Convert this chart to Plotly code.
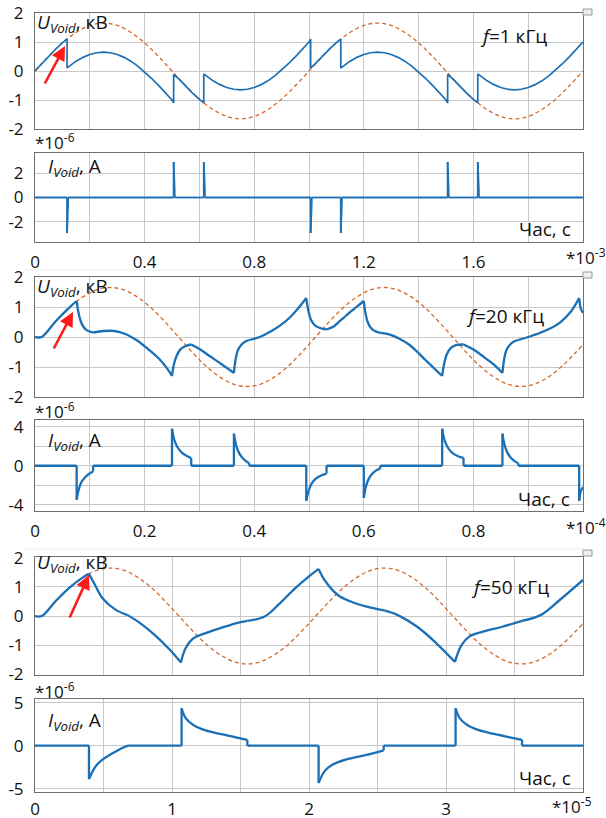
import plotly.graph_objects as go

W, H = 606, 818
BLUE = "#1a6fb5"
ORANGE = "#d2692f"
GRID = "#c8c8c8"
FRAME = "#6e6e6e"
FONT = "Open Sans"

# ---------------- data ----------------
# common applied-voltage shape (kV) sampled every 1/20 period
supply_kv = [0, 0.51, 0.97, 1.33, 1.57, 1.65, 1.57, 1.33, 0.97, 0.51, 0,
             -0.51, -0.97, -1.33, -1.57, -1.65, -1.57, -1.33, -0.97, -0.51, 0,
             0.51, 0.97, 1.33, 1.57, 1.65, 1.57, 1.33, 0.97, 0.51, 0,
             -0.51, -0.97, -1.33, -1.57, -1.65, -1.57, -1.33, -0.97, -0.51, 0]

# ---- f = 1 kHz, time in units of 1e-3 s ----
t1_supply = [0, 0.05, 0.1, 0.15, 0.2, 0.25, 0.3, 0.35, 0.4, 0.45, 0.5, 0.55, 0.6, 0.65,
             0.7, 0.75, 0.8, 0.85, 0.9, 0.95, 1.0, 1.05, 1.1, 1.15, 1.2, 1.25, 1.3, 1.35,
             1.4, 1.45, 1.5, 1.55, 1.6, 1.65, 1.7, 1.75, 1.8, 1.85, 1.9, 1.95, 2.0]
u1_supply = supply_kv

t1_void = [0, 0.025, 0.05, 0.075, 0.1, 0.117, 0.117,
           0.125, 0.15, 0.175, 0.2, 0.225, 0.25, 0.275, 0.3, 0.325, 0.35, 0.375, 0.4, 0.425, 0.45, 0.475, 0.5, 0.506, 0.506,
           0.525, 0.55, 0.575, 0.6, 0.616, 0.616,
           0.625, 0.65, 0.675, 0.7, 0.725, 0.75, 0.775, 0.8, 0.825, 0.85, 0.875, 0.9, 0.925, 0.95, 0.975, 1.0, 1.006, 1.006,
           1.025, 1.05, 1.075, 1.1, 1.116, 1.116,
           1.125, 1.15, 1.175, 1.2, 1.225, 1.25, 1.275, 1.3, 1.325, 1.35, 1.375, 1.4, 1.425, 1.45, 1.475, 1.5, 1.506, 1.506,
           1.525, 1.55, 1.575, 1.6, 1.616, 1.616,
           1.625, 1.65, 1.675, 1.7, 1.725, 1.75, 1.775, 1.8, 1.825, 1.85, 1.875, 1.9, 1.925, 1.95, 1.975, 2.0]
u1_void = [0, 0.26, 0.51, 0.75, 0.97, 1.11, 0.11,
           0.17, 0.34, 0.47, 0.57, 0.63, 0.65, 0.63, 0.57, 0.47, 0.34, 0.17, -0.03, -0.25, -0.49, -0.74, -1.0, -1.1, -0.12,
           -0.27, -0.52, -0.76, -0.98, -1.1, -0.1,
           -0.17, -0.34, -0.47, -0.57, -0.63, -0.65, -0.63, -0.57, -0.47, -0.34, -0.17, 0.03, 0.25, 0.49, 0.74, 1.0, 1.1, 0.1,
           0.27, 0.52, 0.76, 0.98, 1.1, 0.1,
           0.17, 0.34, 0.47, 0.57, 0.63, 0.65, 0.63, 0.57, 0.47, 0.34, 0.17, -0.03, -0.25, -0.49, -0.74, -1.0, -1.1, -0.12,
           -0.27, -0.52, -0.76, -0.98, -1.1, -0.1,
           -0.17, -0.34, -0.47, -0.57, -0.63, -0.65, -0.63, -0.57, -0.47, -0.34, -0.17, 0.03, 0.25, 0.49, 0.74, 1.0]

# current pulses (1e-6 A): each pulse = onset..end times and values
i1_pulse_t = [[0.117, 0.121], [0.506, 0.51], [0.616, 0.62], [1.006, 1.01],
              [1.116, 1.12], [1.506, 1.51], [1.616, 1.62]]
i1_pulse_v = [[-2.95, -0.4], [2.95, 0.4], [2.95, 0.6], [-2.95, -0.4],
              [-2.95, -0.4], [2.95, 0.4], [2.95, 0.6]]

# ---- f = 20 kHz, time in units of 1e-4 s ----
t3_supply = [0, 0.012, 0.037, 0.062, 0.087, 0.112, 0.137, 0.162, 0.187, 0.212, 0.237, 0.262,
             0.287, 0.312, 0.337, 0.362, 0.387, 0.412, 0.437, 0.462, 0.487, 0.512, 0.537,
             0.562, 0.587, 0.612, 0.637, 0.662, 0.687, 0.712, 0.737, 0.762, 0.787, 0.812,
             0.837, 0.862, 0.887, 0.912, 0.937, 0.962, 0.987, 1.012]
u3_supply = [0] + supply_kv

u3_t = [0, 0.012, 0.037, 0.062, 0.076, None,
        0.076, 0.079, 0.083, 0.088, 0.095, 0.106, None,
        0.106, 0.125, 0.145, 0.165, 0.185, 0.205, 0.225, 0.24, 0.25, None,
        0.25, 0.253, 0.258, 0.265, 0.275, 0.285, None,
        0.285, 0.3, 0.32, 0.34, 0.363, None,
        0.363, 0.366, 0.37, 0.377, 0.384, 0.391, None,
        0.391, 0.41, 0.43, 0.45, 0.465, 0.48, 0.495, None,
        0.495, 0.498, 0.503, 0.51, 0.52, 0.532, None,
        0.532, 0.545, 0.556, 0.567, 0.577, 0.588, 0.6, None,
        0.6, 0.603, 0.607, 0.613, 0.62, 0.63, None,
        0.63, 0.648, 0.665, 0.683, 0.698, 0.712, 0.727, 0.743, None,
        0.743, 0.746, 0.751, 0.758, 0.768, 0.782, None,
        0.782, 0.8, 0.82, 0.838, 0.853, None,
        0.853, 0.856, 0.86, 0.867, 0.874, 0.882, None,
        0.882, 0.9, 0.922, 0.94, 0.958, 0.978, 0.993, None,
        0.993, 0.996, 1.0]
u3_v = [0, 0, 0.51, 0.97, 1.2, None,
        1.2, 0.85, 0.55, 0.35, 0.22, 0.15, None,
        0.15, 0.2, 0.2, 0.1, -0.1, -0.38, -0.7, -1.02, -1.3, None,
        -1.3, -0.95, -0.65, -0.42, -0.3, -0.25, None,
        -0.25, -0.4, -0.65, -0.9, -1.2, None,
        -1.2, -0.75, -0.45, -0.25, -0.15, -0.1, None,
        -0.1, 0.0, 0.18, 0.42, 0.65, 0.95, 1.3, None,
        1.3, 0.95, 0.6, 0.4, 0.3, 0.25, None,
        0.25, 0.35, 0.53, 0.7, 0.86, 1.02, 1.2, None,
        1.2, 0.8, 0.5, 0.3, 0.2, 0.14, None,
        0.14, 0.08, -0.06, -0.26, -0.5, -0.76, -1.02, -1.3, None,
        -1.3, -0.95, -0.6, -0.38, -0.27, -0.25, None,
        -0.25, -0.42, -0.68, -0.93, -1.2, None,
        -1.2, -0.75, -0.45, -0.25, -0.15, -0.1, None,
        -0.1, 0.0, 0.14, 0.28, 0.48, 0.85, 1.3, None,
        1.3, 0.95, 0.8]

i3_pulse_t = [[0.076, 0.08, 0.085, 0.092, 0.099, 0.106],
              [0.25, 0.254, 0.26, 0.268, 0.277, 0.285],
              [0.363, 0.367, 0.372, 0.378, 0.385, 0.391],
              [0.495, 0.499, 0.505, 0.513, 0.522, 0.532],
              [0.6, 0.604, 0.609, 0.615, 0.622, 0.63],
              [0.743, 0.747, 0.753, 0.761, 0.771, 0.782],
              [0.853, 0.857, 0.862, 0.868, 0.875, 0.882],
              [0.993, 0.996, 1.0]]
i3_pulse_v = [[-3.5, -2.4, -1.65, -1.15, -0.82, -0.6],
              [3.8, 2.7, 1.9, 1.35, 1.0, 0.8],
              [3.3, 2.1, 1.35, 0.85, 0.48, 0.25],
              [-3.6, -2.6, -1.8, -1.3, -1.0, -0.8],
              [-3.3, -2.1, -1.35, -0.85, -0.5, -0.3],
              [3.8, 2.7, 1.9, 1.35, 1.0, 0.8],
              [3.3, 2.1, 1.35, 0.85, 0.48, 0.25],
              [-3.6, -2.6, -2.2]]

# ---- f = 50 kHz, time in units of 1e-5 s ----
t5_supply = [0, 0.05, 0.15, 0.25, 0.35, 0.45, 0.55, 0.65, 0.75, 0.85, 0.95, 1.05, 1.15,
             1.25, 1.35, 1.45, 1.55, 1.65, 1.75, 1.85, 1.95, 2.05, 2.15, 2.25, 2.35, 2.45,
             2.55, 2.65, 2.75, 2.85, 2.95, 3.05, 3.15, 3.25, 3.35, 3.45, 3.55, 3.65, 3.75,
             3.85, 3.95, 4.05]
u5_supply = [0] + supply_kv

u5_t = [0, 0.05, 0.15, 0.25, 0.35, 0.394, None,
        0.394, 0.44, 0.493, 0.59, 0.676, None,
        0.676, 0.76, 0.873, 0.986, 1.065, None,
        1.065, 1.099, 1.155, 1.24, 1.352, 1.465, 1.55, None,
        1.55, 1.676, 1.775, 1.887, 2.0, 2.07, None,
        2.07, 2.113, 2.17, 2.225, 2.338, 2.45, 2.55, None,
        2.55, 2.648, 2.79, 2.93, 3.065, None,
        3.065, 3.113, 3.17, 3.27, 3.41, 3.555, None,
        3.555, 3.69, 3.83, 4.0]
u5_v = [0, 0, 0.51, 0.97, 1.33, 1.45, None,
        1.45, 1.05, 0.61, 0.21, 0.03, None,
        0.03, -0.22, -0.65, -1.17, -1.6, None,
        -1.6, -1.11, -0.77, -0.6, -0.42, -0.25, -0.17, None,
        -0.17, -0.02, 0.38, 0.9, 1.36, 1.62, None,
        1.62, 1.24, 0.9, 0.67, 0.44, 0.29, 0.19, None,
        0.19, 0.03, -0.37, -0.94, -1.58, None,
        -1.58, -1.0, -0.71, -0.54, -0.37, -0.17, None,
        -0.17, 0.03, 0.55, 1.24]

i5_pulse_t = [[0.394, 0.42, 0.45, 0.5, 0.547, 0.6, 0.64, 0.68],
              [1.07, 1.1, 1.155, 1.24, 1.352, 1.465, 1.55],
              [2.07, 2.113, 2.17, 2.28, 2.42, 2.545],
              [3.07, 3.1, 3.155, 3.24, 3.352, 3.465, 3.555]]
i5_pulse_v = [[-3.9, -3.0, -2.25, -1.55, -1.07, -0.6, -0.25, 0],
              [4.35, 3.2, 2.4, 1.8, 1.36, 0.97, 0.66],
              [-4.35, -3.0, -2.24, -1.58, -1.08, -0.55],
              [4.35, 3.2, 2.4, 1.8, 1.36, 0.97, 0.66]]

# ---- axes: tick values and labels ----
x_ticks_1k = [0, 0.2, 0.4, 0.6, 0.8, 1.0, 1.2, 1.4, 1.6, 1.8, 2.0]
x_text_1k = ["0", "", "0.4", "", "0.8", "", "1.2", "", "1.6", "", ""]
x_ticks_20k = [0, 0.1, 0.2, 0.3, 0.4, 0.5, 0.6, 0.7, 0.8, 0.9, 1.0]
x_text_20k = ["0", "", "0.2", "", "0.4", "", "0.6", "", "0.8", "", ""]
x_ticks_50k = [0, 0.5, 1, 1.5, 2, 2.5, 3, 3.5, 4]
x_text_50k = ["0", "", "1", "", "2", "", "3", "", ""]
y_ticks_u = [-2, -1, 0, 1, 2]
y_text_u = ["-2", "-1", "0", "1", "2"]
y_ticks_i1 = [-2, 0, 2]
y_text_i1 = ["-2", "0", "2"]
y_ticks_i3 = [-4, -2, 0, 2, 4]
y_text_i3 = ["-4", "", "0", "", "4"]
y_ticks_i5 = [-5, 0, 5]
y_text_i5 = ["-5", "0", "5"]


def pulses_to_line(pt, pv, t_end):
    xs, ys = [], []
    prev = 0.0
    for tt, vv in zip(pt, pv):
        xs += [prev, tt[0], None, tt[0], tt[0], None]
        ys += [0, 0, None, 0, vv[0], None]
        xs += list(tt) + [None]
        ys += list(vv) + [None]
        if tt[-1] < t_end:
            xs += [tt[-1], tt[-1], None]
            ys += [vv[-1], 0, None]
        prev = tt[-1]
    if prev < t_end:
        xs += [prev, t_end]
        ys += [0, 0]
    return xs, ys


def px(x):
    return x / W


def py(y):
    return 1 - y / H


X0, X1 = 35, 583
panel_px = [(13, 129), (153, 242), (277, 397), (420, 511), (557, 675), (699, 792)]
x_max = [2.0, 2.0, 1.0, 1.0, 4.0, 4.0]
x_ticks = [x_ticks_1k, x_ticks_1k, x_ticks_20k, x_ticks_20k, x_ticks_50k, x_ticks_50k]
x_text = [[""] * len(x_ticks_1k), x_text_1k, [""] * len(x_ticks_20k), x_text_20k,
          [""] * len(x_ticks_50k), x_text_50k]
x_standoff = [5, 5, 5, 5, 5, 2]
y_ranges = [[-2, 2], [-3.7, 3.7], [-2, 2], [-4.65, 4.7], [-2.03, 2.03], [-5.4, 5.43]]
y_ticks = [y_ticks_u, y_ticks_i1, y_ticks_u, y_ticks_i3, y_ticks_u, y_ticks_i5]
y_text = [y_text_u, y_text_i1, y_text_u, y_text_i3, y_text_u, y_text_i5]

fig = go.Figure()

# voltage panels
for k, (ts, us, tv, uv, lw, shape) in enumerate([
        (t1_supply, u1_supply, t1_void, u1_void, 1.7, "linear"),
        (t3_supply, u3_supply, u3_t, u3_v, 2.3, "spline"),
        (t5_supply, u5_supply, u5_t, u5_v, 2.3, "spline")]):
    ax = 2 * k + 1
    xa = "x" if ax == 1 else f"x{ax}"
    ya = "y" if ax == 1 else f"y{ax}"
    fig.add_trace(go.Scatter(x=ts, y=us, mode="lines", xaxis=xa, yaxis=ya,
                             line=dict(color=ORANGE, width=1.3, dash="4px,3px", shape="spline"),
                             hoverinfo="skip"))
    fig.add_trace(go.Scatter(x=tv, y=uv, mode="lines", xaxis=xa, yaxis=ya,
                             line=dict(color=BLUE, width=lw, shape=shape),
                             connectgaps=False, hoverinfo="skip"))

# current panels
for k, (pt, pv, lw) in enumerate([(i1_pulse_t, i1_pulse_v, 1.8),
                                   (i3_pulse_t, i3_pulse_v, 2.3),
                                   (i5_pulse_t, i5_pulse_v, 2.3)]):
    ax = 2 * k + 2
    xs, ys = pulses_to_line(pt, pv, x_max[ax - 1])
    fig.add_trace(go.Scatter(x=xs, y=ys, mode="lines", xaxis=f"x{ax}", yaxis=f"y{ax}",
                             line=dict(color=BLUE, width=lw, shape="spline"),
                             connectgaps=False, hoverinfo="skip"))

layout = dict(width=W, height=H,
              margin=dict(l=0, r=0, t=0, b=0, autoexpand=False),
              paper_bgcolor="white", plot_bgcolor="white", showlegend=False,
              font=dict(family=FONT, size=17, color="#111111"))

for i in range(6):
    n = "" if i == 0 else str(i + 1)
    top, bot = panel_px[i]
    layout["xaxis" + n] = dict(domain=[px(X0), px(X1)], anchor="y" + n, range=[0, x_max[i]],
                               tickmode="array", tickvals=x_ticks[i], ticktext=x_text[i],
                               showgrid=True, gridcolor=GRID, gridwidth=1, zeroline=False,
                               showline=True, mirror=True, linecolor=FRAME, linewidth=1,
                               ticks="", ticklabelstandoff=x_standoff[i], automargin=False,
                               tickfont=dict(size=17, family=FONT, color="#111111"))
    layout["yaxis" + n] = dict(domain=[py(bot), py(top)], anchor="x" + n, range=y_ranges[i],
                               tickmode="array", tickvals=y_ticks[i], ticktext=y_text[i],
                               showgrid=True, gridcolor=GRID, gridwidth=1, zeroline=False,
                               showline=True, mirror=True, linecolor=FRAME, linewidth=1,
                               ticks="", ticklabelstandoff=7, automargin=False,
                               tickfont=dict(size=17, family=FONT, color="#111111"))

ann = []


def text(x, y, s, size=19, xanchor="left", yanchor="middle"):
    ann.append(dict(x=px(x), y=py(y), xref="paper", yref="paper", text=s, showarrow=False,
                    xanchor=xanchor, yanchor=yanchor,
                    font=dict(family=FONT, size=size, color="#111111")))


u_lab = "<i>U</i><sub><i>Void</i></sub>, кВ"
i_lab = "<i>I</i><sub><i>Void</i></sub>, А"
text(35, 23, u_lab)
text(35, 287, u_lab)
text(35, 563, u_lab)
text(46, 167, i_lab)
text(46, 441, i_lab)
text(46, 721, i_lab)
text(513, 36, "<i>f</i>=1 кГц", xanchor="center")
text(505, 316, "<i>f</i>=20 кГц", xanchor="center")
text(510, 587, "<i>f</i>=50 кГц", xanchor="center")
text(545, 229, "Час, с", xanchor="center")
text(544, 499, "Час, с", xanchor="center")
text(545, 778, "Час, с", xanchor="center")
text(33, 142, "*10<sup>-6</sup>", size=17)
text(33, 411, "*10<sup>-6</sup>", size=17)
text(33, 690, "*10<sup>-6</sup>", size=17)
text(564, 256, "*10<sup>-3</sup>", size=17)
text(564, 526, "*10<sup>-4</sup>", size=17)
text(550, 805, "*10<sup>-5</sup>", size=17)

for (hx, hy, tx, ty) in [(65, 46, 44, 85), (73, 312, 53, 350), (89, 575, 69, 619)]:
    ann.append(dict(x=px(hx), y=py(hy), xref="paper", yref="paper", text="",
                    showarrow=True, arrowhead=2, arrowsize=1.1, arrowwidth=2.6,
                    arrowcolor="#ff1a1a", ax=tx - hx, ay=ty - hy))

layout["annotations"] = ann

shapes = []
for (y0, y1) in [(9, 15), (272, 278), (550, 556)]:
    shapes.append(dict(type="rect", xref="paper", yref="paper", x0=px(583), x1=px(592),
                       y0=py(y1), y1=py(y0), line=dict(color="#9a9a9a", width=1),
                       fillcolor="#eeeeee"))
for yy in [270, 549]:
    shapes.append(dict(type="line", xref="paper", yref="paper", x0=px(25), x1=px(583),
                       y0=py(yy), y1=py(yy), line=dict(color="#ebebeb", width=1)))
layout["shapes"] = shapes

fig.update_layout(**layout)
fig.write_html("out.html", config={"displayModeBar": False},
               post_script="document.body.style.margin='0';document.body.style.overflow='hidden';")
